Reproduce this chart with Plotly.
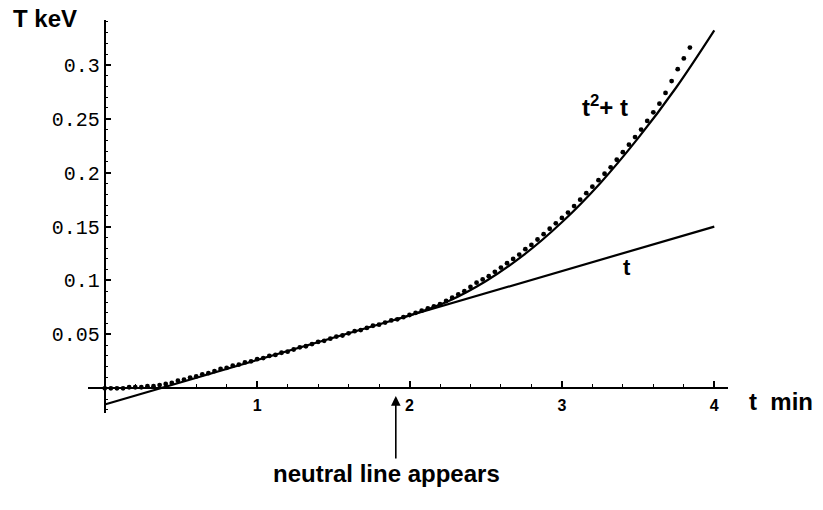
import plotly.graph_objects as go

# ---- data ----
t_data = [0.00, 0.04, 0.08, 0.12, 0.16, 0.20, 0.24, 0.28, 0.32, 0.36,
          0.40, 0.44, 0.48, 0.52, 0.56, 0.60, 0.64, 0.68, 0.72, 0.76,
          0.80, 0.84, 0.88, 0.92, 0.96, 1.00, 1.04, 1.08, 1.12, 1.16,
          1.20, 1.24, 1.28, 1.32, 1.36, 1.40, 1.44, 1.48, 1.52, 1.56,
          1.60, 1.64, 1.68, 1.72, 1.76, 1.80, 1.84, 1.88, 1.92, 1.96,
          2.00, 2.04, 2.08, 2.12, 2.16, 2.20, 2.24, 2.28, 2.32, 2.36,
          2.40, 2.44, 2.48, 2.52, 2.56, 2.60, 2.64, 2.68, 2.72, 2.76,
          2.80, 2.84, 2.88, 2.92, 2.96, 3.00, 3.04, 3.08, 3.12, 3.16,
          3.20, 3.24, 3.28, 3.32, 3.36, 3.40, 3.44, 3.48, 3.52, 3.56,
          3.60, 3.64, 3.68, 3.72, 3.76, 3.80, 3.84]
T_data = [0.000, 0.000, 0.000, 0.000, 0.001, 0.001, 0.001, 0.002, 0.002, 0.003,
          0.004, 0.005, 0.007, 0.008, 0.010, 0.011, 0.013, 0.014, 0.016, 0.018,
          0.019, 0.021, 0.022, 0.024, 0.025, 0.027, 0.028, 0.030, 0.031, 0.033,
          0.034, 0.036, 0.038, 0.039, 0.041, 0.043, 0.044, 0.046, 0.048, 0.049,
          0.051, 0.053, 0.054, 0.056, 0.058, 0.059, 0.061, 0.063, 0.064, 0.066,
          0.068, 0.070, 0.072, 0.074, 0.076, 0.078, 0.081, 0.084, 0.087, 0.090,
          0.094, 0.098, 0.101, 0.104, 0.108, 0.112, 0.116, 0.120, 0.124, 0.129,
          0.133, 0.138, 0.143, 0.148, 0.153, 0.158, 0.163, 0.169, 0.175, 0.181,
          0.187, 0.193, 0.199, 0.205, 0.212, 0.219, 0.226, 0.233, 0.240, 0.248,
          0.256, 0.264, 0.274, 0.285, 0.296, 0.306, 0.316]

# linear fit "t"
t_lin = [0.0, 4.0]
T_lin = [-0.015, 0.150]

# quadratic fit "t^2 + t"
t_quad = [1.9, 2.0, 2.25, 2.5, 2.75, 3.0, 3.25, 3.5, 3.75, 4.0]
T_quad = [0.0634, 0.0675, 0.0805, 0.0993, 0.1237, 0.1540, 0.1900, 0.2320, 0.2790, 0.3320]

x_tick_vals = [1, 2, 3, 4]
x_tick_text = ["1", "2", "3", "4"]
y_tick_vals = [0.05, 0.1, 0.15, 0.2, 0.25, 0.3]
y_tick_text = ["0.05", "0.1", "0.15", "0.2", "0.25", "0.3"]

neutral_t = 1.91

X_RANGE = [-0.11, 4.09]
Y_RANGE = [-0.0229, 0.3416]

fig = go.Figure()
fig.add_trace(go.Scatter(x=t_data, y=T_data, mode="markers",
                         marker=dict(color="black", size=4.8, line=dict(width=0)),
                         hoverinfo="skip"))
fig.add_trace(go.Scatter(x=t_lin, y=T_lin, mode="lines",
                         line=dict(color="black", width=2.2), hoverinfo="skip"))
fig.add_trace(go.Scatter(x=t_quad, y=T_quad, mode="lines",
                         line=dict(color="black", width=2.2, shape="spline"),
                         hoverinfo="skip"))

x_zero_frac = (0 - X_RANGE[0]) / (X_RANGE[1] - X_RANGE[0])
y_zero_frac = (0 - Y_RANGE[0]) / (Y_RANGE[1] - Y_RANGE[0])

fig.update_layout(
    width=823, height=510,
    margin=dict(l=88, r=95, t=20, b=97),
    plot_bgcolor="white", paper_bgcolor="white",
    showlegend=False,
    xaxis=dict(range=X_RANGE, showgrid=False, zeroline=False,
               showline=True, linecolor="black", linewidth=2,
               anchor="free", position=y_zero_frac,
               ticks="inside", ticklen=6, tickwidth=1.5, tickcolor="black",
               tickvals=x_tick_vals, ticktext=x_tick_text,
               tickfont=dict(family="Liberation Sans", size=16, color="black",
                             weight="bold"),
               ticklabelstandoff=2,
               minor=dict(ticks="inside", ticklen=3, tickwidth=1, tickcolor="black",
                          tick0=0, dtick=0.2, showgrid=False)),
    yaxis=dict(range=Y_RANGE, showgrid=False, zeroline=False,
               showline=True, linecolor="black", linewidth=2,
               anchor="free", position=x_zero_frac,
               ticks="inside", ticklen=5, tickwidth=1.5, tickcolor="black",
               tickvals=y_tick_vals, ticktext=y_tick_text,
               tickfont=dict(family="Liberation Mono", size=20, color="black"),
               minor=dict(ticks="inside", ticklen=2.5, tickwidth=1, tickcolor="black",
                          tick0=0, dtick=0.01, showgrid=False)),
)

label_font = dict(family="Liberation Sans", size=24, color="black")

fig.add_annotation(text="<b>T keV</b>", xref="paper", yref="paper",
                   x=-0.12, y=1.005, xanchor="left", yanchor="middle",
                   showarrow=False, font=label_font)
fig.add_annotation(text="<b>t  min</b>", xref="paper", yref="paper",
                   x=1.03, y=0.03, xanchor="left", yanchor="middle",
                   showarrow=False, font=label_font)
fig.add_annotation(text="<b>t<sup>2</sup>+ t</b>", xref="x", yref="y",
                   x=3.28, y=0.262, xanchor="center", yanchor="middle",
                   showarrow=False, font=dict(family="Liberation Sans", size=24, color="black"))
fig.add_annotation(text="<b>t</b>", xref="x", yref="y",
                   x=3.43, y=0.112, xanchor="center", yanchor="middle",
                   showarrow=False, font=dict(family="Liberation Sans", size=22, color="black"))
fig.add_annotation(x=neutral_t, y=-0.0072, xref="x", yref="y",
                   ax=0, ay=64, showarrow=True, arrowhead=2, arrowsize=1.2,
                   arrowwidth=1.6, arrowcolor="black", text="", standoff=0)
fig.add_annotation(text="<b>neutral line appears</b>", xref="paper", yref="paper",
                   x=0.467, y=-0.155, xanchor="center", yanchor="middle",
                   showarrow=False, font=label_font)

fig.write_html("out.html")
